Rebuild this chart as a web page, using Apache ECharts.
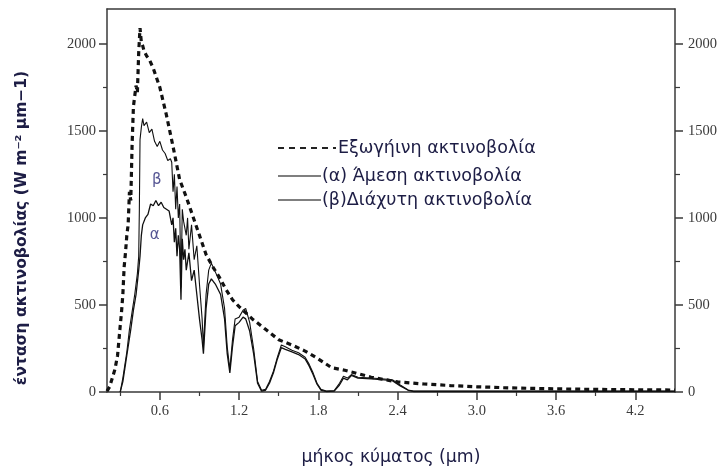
<!DOCTYPE html>
<html>
<head>
<meta charset="utf-8">
<script src="https://cdn.jsdelivr.net/npm/echarts@6/dist/echarts.min.js"></script>
<style>
  html, body { margin: 0; padding: 0; background: #fff; }
  #chart { width: 723px; height: 470px; }
</style>
</head>
<body>
<div id="chart"></div>
<script>
// Extraterrestrial solar spectrum (W m^-2 µm^-1) against wavelength (µm)
const wavelengthsET = [0.20,0.22,0.24,0.26,0.28,0.30,0.31,0.32,0.33,0.34,0.35,0.36,0.37,0.38,0.39,0.40,0.41,0.42,0.43,0.44,0.45,0.46,0.47,0.48,0.50,0.52,0.55,0.60,0.65,0.70,0.75,0.80,0.85,0.90,0.95,1.00,1.05,1.10,1.15,1.20,1.30,1.40,1.50,1.60,1.70,1.80,1.90,2.00,2.20,2.40,2.60,2.80,3.00,3.20,3.40,3.60,3.80,4.00,4.20,4.40,4.50];
const irradianceET = [5,30,80,130,210,380,460,560,720,800,900,960,1150,1100,1420,1640,1700,1760,1720,1950,2090,2010,1990,1960,1930,1910,1860,1750,1590,1410,1220,1120,1010,900,790,720,660,590,530,490,420,360,300,270,235,190,140,125,85,58,46,37,30,25,21,18,16,14,13,12,11];

// Curve (α) – direct radiation at ground level
const wavelengthsA = [0.30,0.32,0.34,0.36,0.38,0.40,0.42,0.44,0.45,0.46,0.47,0.49,0.51,0.53,0.55,0.57,0.59,0.61,0.63,0.65,0.67,0.69,0.70,0.71,0.72,0.73,0.74,0.75,0.76,0.77,0.78,0.79,0.80,0.82,0.84,0.86,0.88,0.90,0.92,0.93,0.95,0.97,0.99,1.02,1.06,1.09,1.11,1.13,1.15,1.17,1.20,1.23,1.25,1.28,1.31,1.34,1.37,1.40,1.43,1.46,1.49,1.52,1.55,1.60,1.65,1.70,1.73,1.76,1.79,1.82,1.86,1.92,1.96,1.99,2.02,2.05,2.10,2.20,2.30,2.36,2.42,2.48,2.52,3.00,3.50,4.00,4.50];
const irradianceA = [0,60,160,260,360,470,560,700,780,900,960,1000,1020,1080,1070,1100,1070,1090,1060,1050,1040,960,1000,860,940,780,900,820,530,880,760,820,700,800,640,700,560,420,300,220,480,620,650,620,560,420,220,110,260,380,400,430,420,350,220,50,5,10,50,110,190,255,245,230,215,190,150,100,45,10,3,5,40,80,70,95,80,75,70,65,35,10,3,3,4,3,3];

// Curve (β)
const wavelengthsB = [0.30,0.32,0.35,0.37,0.39,0.41,0.43,0.44,0.445,0.45,0.46,0.47,0.48,0.50,0.52,0.54,0.56,0.58,0.60,0.62,0.64,0.66,0.68,0.69,0.70,0.71,0.72,0.73,0.74,0.75,0.76,0.77,0.78,0.80,0.81,0.82,0.84,0.86,0.88,0.90,0.92,0.93,0.95,0.97,0.99,1.02,1.06,1.09,1.11,1.13,1.15,1.17,1.20,1.23,1.25,1.28,1.31,1.34,1.37,1.40,1.43,1.46,1.49,1.52,1.55,1.60,1.65,1.70,1.73,1.76,1.79,1.82,1.86,1.92,1.96,1.99,2.02,2.05,2.10,2.20,2.30,2.36,2.42,2.48,2.52,3.00,3.50,4.00,4.50];
const irradianceB = [0,80,230,360,460,560,680,780,1050,1450,1520,1570,1530,1550,1490,1510,1440,1410,1440,1390,1370,1330,1340,1320,1150,1250,1050,1180,1000,1080,600,1050,980,900,1000,820,960,760,840,620,420,260,560,700,740,690,620,480,260,130,300,420,430,470,480,400,250,60,10,15,60,120,200,270,260,240,225,200,160,110,50,15,5,8,50,90,80,100,85,80,75,70,40,12,5,5,6,5,5];

// Axis ticks
const xMajorTicks = [0.6, 1.2, 1.8, 2.4, 3.0, 3.6, 4.2];
const xMinorTicks = [0.3, 0.9, 1.5, 2.1, 2.7, 3.3, 3.9];
const yMajorTicks = [0, 500, 1000, 1500, 2000];
const yMinorTicks = [250, 750, 1250, 1750];

// Curve labels
const curveTags = [[0.577, 1218, 'β'], [0.562, 902, 'α']];

const zip = (xs, ys) => xs.map((x, i) => [x, ys[i]]);

const axisColor = '#3a3a3a';
const tickFont = { fontFamily: 'Liberation Serif', fontSize: 14.5, color: '#3a3a3a' };
const textColor = '#1d1d45';
const legendFont = { fontFamily: 'DejaVu Sans', fontSize: 17.5, fill: textColor, textVerticalAlign: 'middle' };

function xAxisBase(extra) {
  return Object.assign({
    type: 'value', min: 0.2, max: 4.5, gridIndex: 0,
    splitLine: { show: false },
    axisLine: { show: false },
    axisTick: { show: false },
    axisLabel: { show: false }
  }, extra);
}
function yAxisBase(extra) {
  return Object.assign({
    type: 'value', min: 0, max: 2200, gridIndex: 0,
    splitLine: { show: false },
    axisLine: { show: false },
    axisTick: { show: false },
    axisLabel: { show: false }
  }, extra);
}

const chart = echarts.init(document.getElementById('chart'), null, { renderer: 'canvas' });

chart.setOption({
  animation: false,
  backgroundColor: '#fff',
  grid: { left: 107, right: 48, top: 9, bottom: 78, containLabel: false },
  xAxis: [
    xAxisBase({
      position: 'bottom',
      axisLine: { show: true, onZero: false, lineStyle: { color: axisColor, width: 1.5 } },
      axisTick: { show: true, inside: false, length: 8, customValues: xMajorTicks, lineStyle: { color: axisColor, width: 1.5 } },
      axisLabel: Object.assign({ show: true, margin: 12, customValues: xMajorTicks, formatter: v => v.toFixed(1) }, tickFont)
    }),
    xAxisBase({
      position: 'bottom',
      axisTick: { show: true, inside: false, length: 4, customValues: xMinorTicks, lineStyle: { color: axisColor, width: 1.2 } }
    }),
    xAxisBase({
      position: 'top',
      axisLine: { show: true, onZero: false, lineStyle: { color: axisColor, width: 1.5 } }
    })
  ],
  yAxis: [
    yAxisBase({
      position: 'left',
      axisLine: { show: true, onZero: false, lineStyle: { color: axisColor, width: 1.5 } },
      axisTick: { show: true, inside: false, length: 8, customValues: yMajorTicks, lineStyle: { color: axisColor, width: 1.5 } },
      axisLabel: Object.assign({ show: true, margin: 11, customValues: yMajorTicks, formatter: v => String(v) }, tickFont)
    }),
    yAxisBase({
      position: 'right',
      axisLine: { show: true, onZero: false, lineStyle: { color: axisColor, width: 1.5 } },
      axisTick: { show: true, inside: false, length: 8, customValues: yMajorTicks, lineStyle: { color: axisColor, width: 1.5 } },
      axisLabel: Object.assign({ show: true, margin: 13, customValues: yMajorTicks, formatter: v => String(v) }, tickFont)
    }),
    yAxisBase({
      position: 'left',
      axisTick: { show: true, inside: false, length: 4, customValues: yMinorTicks, lineStyle: { color: axisColor, width: 1.2 } }
    }),
    yAxisBase({
      position: 'right',
      axisTick: { show: true, inside: false, length: 5, customValues: yMinorTicks, lineStyle: { color: axisColor, width: 1.2 } }
    })
  ],
  series: [
    {
      name: '(α) Άμεση ακτινοβολία',
      type: 'line', xAxisIndex: 0, yAxisIndex: 0,
      showSymbol: false, symbol: 'none',
      lineStyle: { color: '#111', width: 1.3 },
      data: zip(wavelengthsA, irradianceA)
    },
    {
      name: '(β)Διάχυτη ακτινοβολία',
      type: 'line', xAxisIndex: 0, yAxisIndex: 0,
      showSymbol: false, symbol: 'none',
      lineStyle: { color: '#111', width: 1.1 },
      data: zip(wavelengthsB, irradianceB)
    },
    {
      name: 'Εξωγήινη ακτινοβολία',
      type: 'line', xAxisIndex: 0, yAxisIndex: 0,
      showSymbol: false, symbol: 'none',
      lineStyle: { color: '#111', width: 3.2, type: [5, 4] },
      data: zip(wavelengthsET, irradianceET)
    },
    {
      type: 'scatter', xAxisIndex: 0, yAxisIndex: 0,
      symbolSize: 0,
      label: {
        show: true, position: 'inside',
        formatter: p => p.value[2],
        fontFamily: 'DejaVu Sans', fontSize: 15, color: '#2a2a78'
      },
      data: curveTags
    }
  ],
  graphic: [
    // legend
    { type: 'line', shape: { x1: 278, y1: 148, x2: 336, y2: 148 },
      style: { stroke: '#222', lineWidth: 2, lineDash: [6, 5] } },
    { type: 'text', x: 338, y: 148, style: Object.assign({ text: 'Εξωγήινη ακτινοβολία' }, legendFont) },
    { type: 'line', shape: { x1: 278, y1: 176, x2: 321, y2: 176 },
      style: { stroke: '#555', lineWidth: 1.5 } },
    { type: 'text', x: 322, y: 176, style: Object.assign({ text: '(α) Άμεση ακτινοβολία' }, legendFont) },
    { type: 'line', shape: { x1: 278, y1: 200, x2: 321, y2: 200 },
      style: { stroke: '#555', lineWidth: 1.5 } },
    { type: 'text', x: 322, y: 200, style: Object.assign({ text: '(β)Διάχυτη ακτινοβολία' }, legendFont) },
    // axis titles
    { type: 'text', x: 391, y: 458,
      style: { text: 'μήκος κύματος (μm)', fontFamily: 'DejaVu Sans', fontSize: 17.3, fill: textColor, textAlign: 'center', textVerticalAlign: 'middle' } },
    { type: 'text', x: 22, y: 228, rotation: Math.PI / 2,
      style: { text: 'ένταση ακτινοβολίας (W m⁻² μm−1)', fontFamily: 'DejaVu Sans', fontWeight: 'bold', fontSize: 15.5, fill: textColor, textAlign: 'center', textVerticalAlign: 'middle' } }
  ]
});
</script>
</body>
</html>
